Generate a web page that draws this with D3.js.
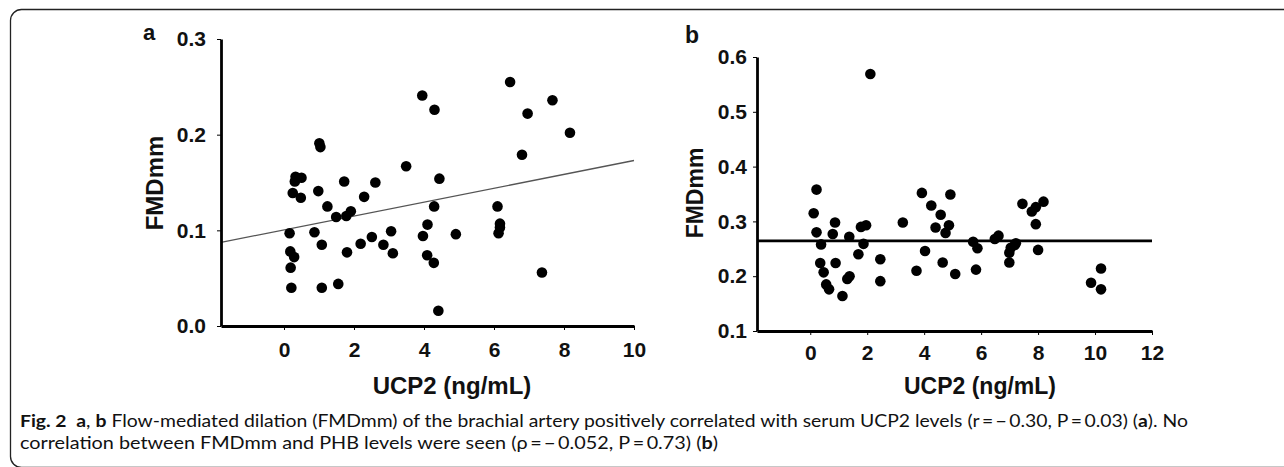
<!DOCTYPE html>
<html>
<head>
<meta charset="utf-8">
<script src="https://cdn.jsdelivr.net/npm/d3@7"></script>
<style>
  html, body { margin: 0; padding: 0; background: #fff; }
  svg text { fill: #111; }
</style>
</head>
<body>
<div id="chart"></div>
<script>
// panel a: UCP2 vs FMDmm
const ucp2A = [3.95, 4.30, 1.01, 1.04, 3.49, 0.33, 0.50, 0.31, 1.72, 0.25, 0.48, 0.98, 2.61, 2.29, 1.24, 1.49, 1.78, 1.91,
  4.44, 4.29, 4.10, 3.97, 4.91, 4.09, 4.28, 4.41, 0.16, 0.87, 1.08, 0.18, 0.29, 0.19, 0.21, 1.08, 1.55, 1.80, 2.19, 2.51,
  2.84, 3.06, 3.11, 6.46, 7.67, 6.96, 8.17, 6.80, 6.10, 6.17, 6.17, 6.13, 7.37];
const fmdA = [0.241, 0.226, 0.191, 0.187, 0.167, 0.156, 0.155, 0.151, 0.151, 0.139, 0.134, 0.141, 0.150, 0.135, 0.125, 0.114, 0.115, 0.120,
  0.154, 0.125, 0.106, 0.094, 0.096, 0.074, 0.066, 0.016, 0.097, 0.098, 0.085, 0.078, 0.072, 0.061, 0.040, 0.040, 0.044, 0.077, 0.086, 0.093,
  0.085, 0.099, 0.076, 0.255, 0.236, 0.222, 0.202, 0.179, 0.125, 0.107, 0.103, 0.097, 0.056];
const fitA = { intercept: 0.1005, slope: 0.00725 };
const xTicksA = [0, 2, 4, 6, 8, 10];
const yTicksA = [0.0, 0.1, 0.2, 0.3];

// panel b: UCP2 vs FMDmm (PHB)
const ucp2B = [0.22, 0.12, 0.22, 0.38, 0.35, 0.47, 0.56, 0.66, 0.87, 0.79, 0.89, 1.13, 1.37, 1.30, 1.38, 1.69, 1.78, 1.96, 1.87,
  2.46, 2.46, 3.25, 3.92, 4.25, 4.58, 4.92, 4.40, 4.87, 4.75, 4.03, 3.73, 4.65, 5.09, 5.72, 5.87, 5.82, 6.48, 6.61, 6.99,
  7.18, 6.99, 7.04, 7.22, 7.45, 7.78, 7.92, 8.19, 7.92, 8.00, 9.86, 10.21, 10.21, 2.11];
const fmdB = [0.358, 0.315, 0.280, 0.258, 0.224, 0.207, 0.185, 0.176, 0.298, 0.277, 0.224, 0.164, 0.272, 0.195, 0.200, 0.240, 0.290, 0.293, 0.259,
  0.231, 0.191, 0.298, 0.352, 0.329, 0.312, 0.349, 0.289, 0.293, 0.279, 0.246, 0.210, 0.225, 0.204, 0.263, 0.251, 0.212, 0.268, 0.274, 0.243,
  0.257, 0.225, 0.252, 0.260, 0.332, 0.318, 0.326, 0.336, 0.295, 0.248, 0.188, 0.214, 0.176, 0.569];
const meanB = 0.2645;
const xTicksB = [0, 2, 4, 6, 8, 10, 12];
const yTicksB = [0.1, 0.2, 0.3, 0.4, 0.5, 0.6];

const W = 1284, H = 467;
const svg = d3.select("#chart").append("svg").attr("width", W).attr("height", H)
  .style("font-family", "'Liberation Sans', Arial, sans-serif");

// frame
svg.append("rect").attr("x", 10.5).attr("y", 9.5).attr("width", 1320).attr("height", 458)
  .attr("rx", 11).attr("fill", "none").attr("stroke", "#222").attr("stroke-width", 1.3);

function panel(opt) {
  const x = d3.scaleLinear().domain(opt.xDomain).range(opt.xRange);
  const y = d3.scaleLinear().domain(opt.yDomain).range(opt.yRange);
  const g = svg.append("g");

  if (opt.fit) {
    g.append("line")
      .attr("x1", x(opt.xDomain[0])).attr("y1", y(opt.fit.intercept + opt.fit.slope * opt.xDomain[0]))
      .attr("x2", x(opt.xDomain[1])).attr("y2", y(opt.fit.intercept + opt.fit.slope * opt.xDomain[1]))
      .attr("stroke", "#555").attr("stroke-width", 1.3);
  }
  if (opt.mean != null) {
    g.append("line")
      .attr("x1", x(opt.xDomain[0])).attr("x2", x(opt.xDomain[1]))
      .attr("y1", y(opt.mean)).attr("y2", y(opt.mean))
      .attr("stroke", "#000").attr("stroke-width", 2.6);
  }

  g.selectAll("circle.dot")
    .data(opt.xs.map((v, i) => [v, opt.ys[i]]))
    .enter().append("circle")
    .attr("class", "dot")
    .attr("cx", d => x(d[0]))
    .attr("cy", d => y(d[1]))
    .attr("r", 5.3)
    .attr("fill", "#000");

  const xAxis = g.append("g").attr("transform", `translate(0,${opt.yRange[0]})`)
    .call(d3.axisBottom(x).tickValues(opt.xTicks).tickSize(4).tickSizeOuter(0)
      .tickPadding(opt.xPad).tickFormat(d3.format("d")));
  const yAxis = g.append("g").attr("transform", `translate(${opt.xRange[0]},0)`)
    .call(d3.axisLeft(y).tickValues(opt.yTicks).tickSize(4).tickSizeOuter(0)
      .tickPadding(opt.yPad).tickFormat(d3.format(".1f")));

  [xAxis, yAxis].forEach(a => {
    a.select(".domain").attr("stroke", "#000").attr("stroke-width", 2.8);
    a.selectAll(".tick line").attr("stroke", "#000").attr("stroke-width", 1);
    a.selectAll(".tick text").attr("fill", "#111")
      .style("font-family", "'Liberation Sans', Arial, sans-serif")
      .style("font-weight", "bold").style("font-size", opt.tickFont + "px");
  });

  g.append("text").attr("x", opt.xLabelPos[0]).attr("y", opt.xLabelPos[1])
    .attr("text-anchor", "middle").style("font-weight", "bold").style("font-size", opt.labelFont + "px")
    .text("UCP2 (ng/mL)");
  g.append("text")
    .attr("transform", `translate(${opt.yLabelPos[0]},${opt.yLabelPos[1]}) rotate(-90)`)
    .attr("text-anchor", "middle").style("font-weight", "bold").style("font-size", opt.labelFont + "px")
    .text("FMDmm");
  g.append("text").attr("x", opt.letterPos[0]).attr("y", opt.letterPos[1])
    .style("font-weight", "bold").style("font-size", opt.letterFont + "px")
    .text(opt.letter);
}

panel({
  xs: ucp2A, ys: fmdA, fit: fitA,
  xDomain: [-1.8, 10], xRange: [221, 634],
  yDomain: [0, 0.3], yRange: [326, 39],
  xTicks: xTicksA, yTicks: yTicksA, xPad: 12, yPad: 11, tickFont: 21,
  labelFont: 24, xLabelPos: [452, 394], yLabelPos: [163, 183],
  letter: "a", letterPos: [143, 40], letterFont: 22
});

panel({
  xs: ucp2B, ys: fmdB, mean: meanB,
  xDomain: [-1.87, 12], xRange: [757, 1152],
  yDomain: [0.1, 0.6], yRange: [331, 57],
  xTicks: xTicksB, yTicks: yTicksB, xPad: 10, yPad: 6, tickFont: 21,
  labelFont: 23, xLabelPos: [980, 394], yLabelPos: [703, 193],
  letter: "b", letterPos: [685, 43], letterFont: 23
});

// caption
const capFont = "Lato, 'Open Sans', sans-serif";
const line1 = [
  ["Fig. 2", true], ["\u2002", false], ["a", true], [", ", false], ["b", true],
  [" Flow-mediated dilation (FMDmm) of the brachial artery positively correlated with serum UCP2 levels (r\u2009=\u2009\u2212\u20090.30, P\u2009=\u20090.03) (", false],
  ["a", true], ["). No", false]
];
const line2 = [
  ["correlation between FMDmm and PHB levels were seen (\u03c1\u2009=\u2009\u2212\u20090.052, P\u2009=\u20090.73) (", false],
  ["b", true], [")", false]
];
function caption(parts, yPos, len) {
  const t = svg.append("text").attr("x", 20).attr("y", yPos)
    .attr("textLength", len).attr("lengthAdjust", "spacingAndGlyphs")
    .style("font-family", capFont).style("font-size", "17px");
  parts.forEach(p => t.append("tspan").style("font-weight", p[1] ? "bold" : "normal").text(p[0]));
}
caption(line1, 427, 1168);
caption(line2, 449, 698);
</script>
</body>
</html>
